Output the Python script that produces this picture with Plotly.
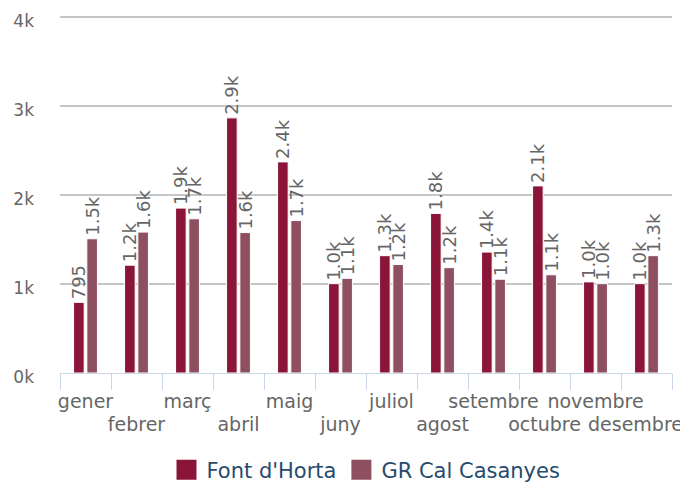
import plotly.graph_objects as go

months = ["gener", "febrer", "març", "abril", "maig", "juny", "juliol",
          "agost", "setembre", "octubre", "novembre", "desembre"]
font_horta = [795, 1213, 1855, 2870, 2375, 1005, 1320, 1795, 1360, 2105, 1025, 1005]
gr_casanyes = [1510, 1585, 1735, 1580, 1715, 1065, 1220, 1185, 1055, 1105, 1005, 1320]
series_names = ["Font d'Horta", "GR Cal Casanyes"]
series_colors = ["#8a1538", "#8e5060"]
y_ticks = [0, 1000, 2000, 3000, 4000]
y_tick_labels = ["0k", "1k", "2k", "3k", "4k"]

def fmt(v):
    return str(v) if v < 1000 else f"{v/1000:.1f}k"

# staggered labels: even-indexed months on the first row, odd on the second row;
# the very last label sits on its own axis so it can be pulled inside the chart
last = len(months) - 1
first_row = [m if i % 2 == 0 else "" for i, m in enumerate(months)]
second_idx = [i for i in range(len(months)) if i % 2 == 1 and i != last]
second_row = [months[i] for i in second_idx]

FONT = "DejaVu Sans, Verdana, sans-serif"
LABEL_COL = "#666666"

fig = go.Figure()
for name, vals, col in zip(series_names, [font_horta, gr_casanyes], series_colors):
    fig.add_trace(go.Bar(
        x=months, y=vals, name=name, showlegend=False, legendgroup=name,
        marker=dict(color=col, line=dict(color="white", width=1)),
        text=[fmt(v) for v in vals], textposition="outside", textangle=-90,
        textfont=dict(family=FONT, size=18, color=LABEL_COL),
        cliponaxis=False, constraintext="none",
    ))
# legend entries with larger square swatches (placed on the label-row axes)
for name, col, xa in zip(series_names, series_colors, ["x2", "x3"]):
    fig.add_trace(go.Scatter(
        x=[None], y=[None], mode="markers", name=name, legendgroup=name,
        xaxis=xa, yaxis="y",
        marker=dict(symbol="square", size=16, color=col,
                    line=dict(color=col, width=4)),
        showlegend=True,
    ))

row2 = dict(
    type="linear", overlaying="x", anchor="y", side="bottom",
    range=[-0.5, len(months) - 0.5],
    showgrid=False, showline=False, zeroline=False, ticks="",
    tickangle=0, automargin=False, ticklabelstandoff=38,
    ticklabeloverflow="allow",
    tickfont=dict(family=FONT, size=19, color=LABEL_COL),
)

# the page body adds an 8px offset, so the figure is 8px smaller
fig.update_layout(
    width=680, height=480,
    margin=dict(l=52, r=16, t=8, b=115, autoexpand=False),
    paper_bgcolor="white", plot_bgcolor="white",
    barmode="group", bargap=0.48, bargroupgap=0.2,
    font=dict(family=FONT, size=17, color=LABEL_COL),
    showlegend=True,
    legend=dict(orientation="h", x=0.5, xanchor="center", y=-0.272, yanchor="middle",
                font=dict(family=FONT, size=21, color="#274b6d"),
                itemsizing="trace", traceorder="normal"),
    xaxis=dict(
        type="category", tickmode="array", tickvals=months, ticktext=first_row,
        tickson="boundaries", ticks="outside", ticklen=16, tickcolor="#ccd6eb",
        showline=True, linecolor="#ccd6eb", linewidth=1,
        showgrid=False, tickangle=0, automargin=False, ticklabelstandoff=11,
        tickfont=dict(family=FONT, size=19, color=LABEL_COL),
    ),
    xaxis2=dict(row2, tickmode="array", tickvals=second_idx, ticktext=second_row),
    xaxis3=dict(row2, tickmode="array", tickvals=[last], ticktext=[months[last]],
                ticklabelshift=-11),
    yaxis=dict(
        range=[0, 4016], tickmode="array", tickvals=y_ticks, ticktext=y_tick_labels,
        showgrid=True, gridcolor="#c6c6c6", gridwidth=1.5, zeroline=False,
        showline=False, ticks="", ticklabelstandoff=25, ticklabelshift=4, automargin=False,
        tickfont=dict(family=FONT, size=17, color=LABEL_COL),
    ),
)

fig.write_html("out.html")
